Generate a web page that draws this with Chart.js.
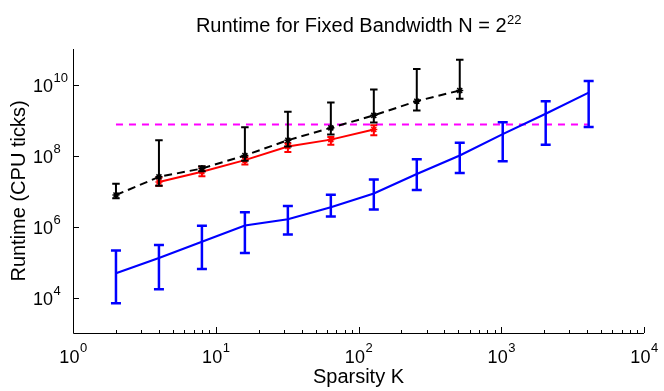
<!DOCTYPE html>
<html>
<head>
<meta charset="utf-8">
<script src="https://cdn.jsdelivr.net/npm/chart.js@4/dist/chart.umd.min.js"></script>
<style>
  html, body { margin: 0; padding: 0; background: #fff; }
  #wrap { width: 664px; height: 391px; position: relative; }
</style>
</head>
<body>
<div id="wrap"><canvas id="c"></canvas></div>
<script>
// ---- data ----
const sparsityK = [2, 4, 8, 16, 32, 64, 128, 256, 512, 1024, 2048, 4096];

const blueMid = [4.8e4, 1.3e5, 3.7e5, 1.07e6, 1.6e6, 3.5e6, 8.5e6, 3.0e7, 1.0e8, 4.0e8, 1.5e9, 5.9e9];
const blueHigh = [2.1e5, 3.0e5, 1.05e6, 2.5e6, 3.8e6, 7.9e6, 2.1e7, 7.8e7, 2.3e8, 8.7e8, 3.35e9, 1.26e10];
const blueLow = [6.9e3, 1.7e4, 6.3e4, 1.8e5, 6.0e5, 1.9e6, 3.0e6, 1.07e7, 3.2e7, 6.9e7, 2.0e8, 6.3e8];

const blackK = [2, 4, 8, 16, 32, 64, 128, 256, 512];
const blackMid = [7.7e6, 2.5e7, 4.3e7, 1.0e8, 2.7e8, 6.0e8, 1.35e9, 3.4e9, 6.8e9];
const blackHigh = [1.6e7, 2.7e8, 5.0e7, 6.2e8, 1.7e9, 3.1e9, 7.2e9, 2.75e10, 5.0e10];
const blackLow = [6.2e6, 1.4e7, 3.6e7, 7.1e7, 1.8e8, 3.9e8, 8.5e8, 1.86e9, 4.0e9];

const redK = [4, 8, 16, 32, 64, 128];
const redMid = [1.8e7, 3.5e7, 7.4e7, 1.8e8, 2.8e8, 5.4e8];
const redHigh = [2.4e7, 4.8e7, 9.1e7, 2.2e8, 3.3e8, 7.1e8];
const redLow = [1.4e7, 2.6e7, 5.6e7, 1.26e8, 2.0e8, 3.7e8];

const magentaK = [2, 4096];
const magentaY = [7.5e8, 7.5e8];

const xTickValues = [1, 10, 100, 1000, 10000];
const xTickExponents = ['0', '1', '2', '3', '4'];
const yTickValues = [1e4, 1e6, 1e8, 1e10];
const yTickExponents = ['4', '6', '8', '10'];

const titleText = 'Runtime for Fixed Bandwidth N = 2';
const titleExp = '22';
const xTitle = 'Sparsity K';
const yTitle = 'Runtime (CPU ticks)';

// ---- helpers ----
const FONT = '"Liberation Sans", Arial, Helvetica, sans-serif';
function pts(xs, ys) { return xs.map((x, i) => ({ x: x, y: ys[i] })); }

const errorBarPlugin = {
  id: 'errorBars',
  afterDatasetDraw(chart, args) {
    const ds = chart.data.datasets[args.index];
    if (!ds.errLow) return;
    const xs = chart.scales.x, ys = chart.scales.y, ctx = chart.ctx;
    ctx.save();
    ctx.strokeStyle = ds.borderColor;
    ctx.lineWidth = ds.errWidth;
    ctx.setLineDash([]);
    ds.data.forEach((p, i) => {
      const px = xs.getPixelForValue(p.x);
      const pl = ys.getPixelForValue(ds.errLow[i]);
      const ph = ys.getPixelForValue(ds.errHigh[i]);
      const hw = ds.capWidth / 2;
      ctx.beginPath();
      ctx.moveTo(px, pl); ctx.lineTo(px, ph);
      ctx.moveTo(px - hw, pl); ctx.lineTo(px + hw, pl);
      ctx.moveTo(px - hw, ph); ctx.lineTo(px + hw, ph);
      ctx.stroke();
    });
    ctx.restore();
  }
};

function drawPow(ctx, base, exp, x, baseY, align, baseSize, expSize, expRise) {
  ctx.font = baseSize + 'px ' + FONT;
  const wb = ctx.measureText(base).width;
  ctx.font = expSize + 'px ' + FONT;
  const we = ctx.measureText(exp).width;
  let start;
  if (align === 'center') start = x - (wb + we) / 2;
  else if (align === 'baseRight') start = x - wb;
  else start = x;
  ctx.textAlign = 'left';
  ctx.textBaseline = 'alphabetic';
  ctx.font = baseSize + 'px ' + FONT;
  ctx.fillText(base, start, baseY);
  ctx.font = expSize + 'px ' + FONT;
  ctx.fillText(exp, start + wb + 0.5, baseY - expRise);
}

const axesPlugin = {
  id: 'matlabAxes',
  afterDraw(chart) {
    const ctx = chart.ctx, xs = chart.scales.x, ys = chart.scales.y;
    const a = chart.chartArea;
    ctx.save();
    ctx.fillStyle = '#000';
    ctx.strokeStyle = '#000';
    ctx.lineWidth = 1;
    // axis lines
    ctx.beginPath();
    ctx.moveTo(Math.round(a.left) + 0.5, a.top);
    ctx.lineTo(Math.round(a.left) + 0.5, Math.round(a.bottom) + 0.5);
    ctx.lineTo(a.right, Math.round(a.bottom) + 0.5);
    ctx.stroke();
    // x ticks (inward)
    ctx.beginPath();
    xTickValues.forEach(v => {
      const px = Math.round(xs.getPixelForValue(v)) + 0.5;
      ctx.moveTo(px, a.bottom); ctx.lineTo(px, a.bottom - 6);
    });
    for (let d = 1; d < 10000; d *= 10) {
      for (let m = 2; m <= 9; m++) {
        const px = Math.round(xs.getPixelForValue(d * m)) + 0.5;
        ctx.moveTo(px, a.bottom); ctx.lineTo(px, a.bottom - 3);
      }
    }
    yTickValues.forEach(v => {
      const py = Math.round(ys.getPixelForValue(v)) + 0.5;
      ctx.moveTo(a.left, py); ctx.lineTo(a.left + 6, py);
    });
    ctx.stroke();
    // tick labels
    xTickValues.forEach((v, i) => {
      const px = xs.getPixelForValue(v);
      drawPow(ctx, '10', xTickExponents[i], px, a.bottom + 29.5, 'center', 18, 13, 11);
    });
    yTickValues.forEach((v, i) => {
      const py = ys.getPixelForValue(v);
      drawPow(ctx, '10', yTickExponents[i], a.left - 20, py + 7.7, 'baseRight', 18, 13, 10.7);
    });
    // title
    ctx.font = '20px ' + FONT;
    const wt = ctx.measureText(titleText).width;
    ctx.font = '13px ' + FONT;
    const wte = ctx.measureText(titleExp).width;
    const cx = (a.left + a.right) / 2;
    drawPow(ctx, titleText, titleExp, cx - (wt + wte) / 2, 32.3, 'left', 20, 13, 8);
    // x title
    ctx.font = '20px ' + FONT;
    ctx.textAlign = 'center';
    ctx.textBaseline = 'alphabetic';
    ctx.fillText(xTitle, cx, 382.5);
    // y title
    ctx.translate(25, (a.top + a.bottom) / 2);
    ctx.rotate(-Math.PI / 2);
    ctx.fillText(yTitle, 0, 0);
    ctx.restore();
  }
};

new Chart(document.getElementById('c'), {
  type: 'line',
  data: {
    datasets: [
      {
        data: pts(magentaK, magentaY),
        borderColor: '#ff00ff', borderWidth: 2, borderDash: [7, 6],
        pointRadius: 0, order: 4
      },
      {
        data: pts(sparsityK, blueMid),
        errLow: blueLow, errHigh: blueHigh, capWidth: 10, errWidth: 2.5,
        borderColor: '#0000ff', borderWidth: 2.2,
        pointRadius: 0, order: 3
      },
      {
        data: pts(redK, redMid),
        errLow: redLow, errHigh: redHigh, capWidth: 7, errWidth: 2,
        borderColor: '#ff0000', backgroundColor: '#ff0000', borderWidth: 2,
        pointStyle: 'star', pointRadius: 3.5, pointBorderWidth: 1.5, order: 2
      },
      {
        data: pts(blackK, blackMid),
        errLow: blackLow, errHigh: blackHigh, capWidth: 7.5, errWidth: 2,
        borderColor: '#000000', backgroundColor: '#000000', borderWidth: 2,
        borderDash: [8, 5],
        pointStyle: 'star', pointRadius: 3.5, pointBorderWidth: 1.5, order: 1
      }
    ]
  },
  options: {
    responsive: true,
    maintainAspectRatio: false,
    animation: false,
    events: [],
    layout: { padding: { left: 73, right: 20, top: 49, bottom: 58 } },
    elements: { line: { tension: 0 } },
    plugins: { legend: { display: false }, tooltip: { enabled: false }, title: { display: false } },
    scales: {
      x: { type: 'logarithmic', min: 1, max: 10000, display: false },
      y: { type: 'logarithmic', min: 1e3, max: 1e11, display: false }
    }
  },
  plugins: [errorBarPlugin, axesPlugin]
});
</script>
</body>
</html>
